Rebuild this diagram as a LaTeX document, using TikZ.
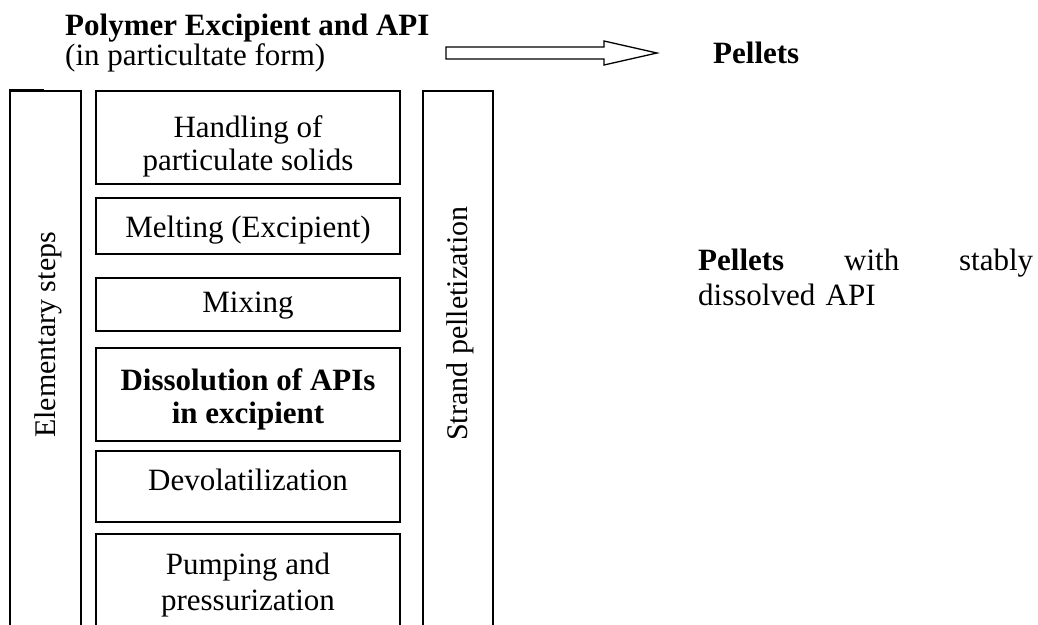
\documentclass[tikz,border=0pt]{standalone}
\usepackage{fontspec}
\setmainfont{Liberation Serif}
\usetikzlibrary{positioning,calc}

\begin{document}
\begin{tikzpicture}[
  x=1pt, y=-1pt,
  stepbox/.style={draw, line width=1.3pt, minimum width=304pt, inner sep=0pt},
  colbox/.style={draw, line width=1.3pt, minimum width=71pt, minimum height=549pt, inner sep=0pt},
  steptxt/.style={font=\fontsize{31}{33}\selectfont, align=center, inner sep=0pt},
  coltxt/.style={font=\fontsize{30}{33}\selectfont, rotate=90, anchor=west, inner sep=0pt},
  plain/.style={font=\fontsize{31}{28}\selectfont, inner sep=0pt},
  blockarrow/.style={draw, line width=1.3pt, line join=miter, fill=white},
]
  \useasboundingbox (0,0) rectangle (1038,624);

  %% ── Feed and product ──
  \node[plain, align=left, anchor=north west] (feed) at (65,14)
    {\textbf{Polymer Excipient and API}\\(in particultate form)};
  \node[plain, anchor=base west] (pellets) at (713,63) {\textbf{Pellets}};

  %% ── Block arrow ──
  \coordinate (arrowtail) at (446,53);
  \coordinate (arrowtip) at (657,53);
  \draw[blockarrow] ($(arrowtail)+(0,-6)$) -- ($(arrowtip)+(-53,-6)$)
    -- ($(arrowtip)+(-53,-12)$) -- (arrowtip) -- ($(arrowtip)+(-53,12)$)
    -- ($(arrowtip)+(-53,6)$) -- ($(arrowtail)+(0,6)$) -- cycle;

  %% ── Side columns ──
  \node[colbox] (elem) at (45.5,365.5) {};
  \node[colbox, minimum width=70pt] (strand) at (458,365.5) {};
  \node[coltxt] (elemtxt) at (48.5,438) {Elementary steps};
  \node[coltxt] (strandtxt) at (460,441) {Strand pelletization};
  \draw[line width=1.3pt] ([yshift=1pt]elem.north west) -- ++(35,0);

  %% ── Elementary steps ──
  \node[stepbox, minimum height=93pt]  (handling)    at (248,137.5) {};
  \node[stepbox, minimum height=56pt]  (melting)     at (248,226)   {};
  \node[stepbox, minimum height=53pt]  (mixing)      at (248,304.5) {};
  \node[stepbox, minimum height=93pt]  (dissolution) at (248,394.5) {};
  \node[stepbox, minimum height=71pt]  (devol)       at (248,486.5) {};
  \node[stepbox, minimum height=106pt] (pumping)     at (248,587)   {};

  \node[steptxt] (handlingtxt) at (248,146.8) {Handling of\\particulate solids};
  \node[steptxt, anchor=base] (meltingtxt) at (248,237) {Melting (Excipient)};
  \node[steptxt, anchor=base] (mixingtxt) at (248,312) {Mixing};
  \node[steptxt] (dissolutiontxt) at (248,399.2)
    {\textbf{Dissolution of APIs}\\\textbf{in excipient}};
  \node[steptxt, anchor=base] (devoltxt) at (248,490) {Devolatilization};
  \node[steptxt, font=\fontsize{31}{36}\selectfont] (pumpingtxt) at (248,584.8)
    {Pumping and\\pressurization};

  %% ── Result ──
  \node[plain, font=\fontsize{31}{35}\selectfont, text width=335pt, align=left,
        anchor=north west] (result) at (698,249)
    {\textbf{Pellets}\hfill with\hfill stably\\dissolved API};

\end{tikzpicture}
\end{document}
